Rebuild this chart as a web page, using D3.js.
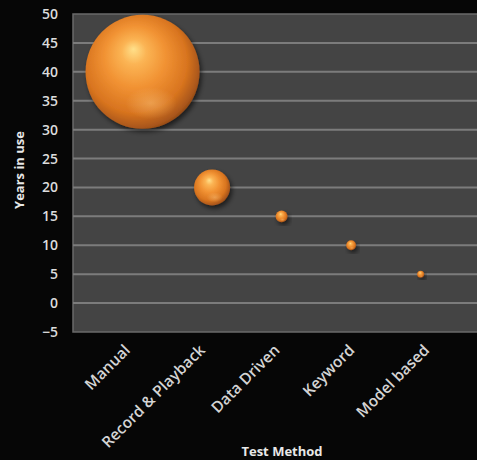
<!DOCTYPE html>
<html><head><meta charset="utf-8">
<script src="https://cdn.jsdelivr.net/npm/d3@7"></script>
<style>html,body{margin:0;padding:0;background:#060606;}svg{display:block;}</style>
</head><body>
<script>
const categories = ["Manual", "Record & Playback", "Data Driven", "Keyword", "Model based"];
const yearsInUse = [40, 20, 15, 10, 5];
const bubbleSize = [100, 10, 1.1, 0.75, 0.38];
const yTicks = [-5, 0, 5, 10, 15, 20, 25, 30, 35, 40, 45, 50];

const W = 477, H = 460;
const m = {left: 73, top: 14, right: 0, bottom: 128};
const svg = d3.select("body").append("svg").attr("width", W).attr("height", H);
const defs = svg.append("defs");
const g1 = defs.append("radialGradient").attr("id", "ball").attr("cx", "45%").attr("cy", "45%").attr("r", "60%").attr("fx", "42%").attr("fy", "30%");
[["0%", "#ffe08a"], ["18%", "#fbb454"], ["45%", "#f19233"], ["75%", "#d8741f"], ["92%", "#a9561a"], ["100%", "#7a3c14"]].forEach(([o, c]) => g1.append("stop").attr("offset", o).attr("stop-color", c));
const g2 = defs.append("radialGradient").attr("id", "refl").attr("cx", "50%").attr("cy", "50%").attr("r", "50%");
g2.append("stop").attr("offset", "0%").attr("stop-color", "#ffcf8a").attr("stop-opacity", 0.4);
g2.append("stop").attr("offset", "100%").attr("stop-color", "#ffcf8a").attr("stop-opacity", 0);
const f = defs.append("filter").attr("id", "shadow").attr("x", "-30%").attr("y", "-30%").attr("width", "160%").attr("height", "160%");
f.append("feGaussianBlur").attr("in", "SourceAlpha").attr("stdDeviation", 2.5);
f.append("feOffset").attr("dx", 2).attr("dy", 3).attr("result", "b");
f.append("feComponentTransfer").append("feFuncA").attr("type", "linear").attr("slope", 0.6);
const mg = f.append("feMerge"); mg.append("feMergeNode"); mg.append("feMergeNode").attr("in", "SourceGraphic");

const x = d3.scaleLinear().domain([0, 5.81]).range([m.left, W - m.right]);
const y = d3.scaleLinear().domain([-5, 50]).range([H - m.bottom, m.top]);
const r = d3.scaleSqrt().domain([0, 100]).range([0, 57]);
const xl = d3.scalePoint().domain(categories).range([x(1) - 14, x(categories.length) + 7]);

svg.append("rect").attr("x", m.left).attr("y", m.top).attr("width", W - m.left + 2).attr("height", y(-5) - m.top)
  .attr("fill", "#444444").attr("stroke", "#6a6a6a").attr("stroke-width", 1.5);

svg.append("g").selectAll("line").data(yTicks.filter(t => t > -5 && t < 50)).join("line")
  .attr("x1", m.left).attr("x2", W).attr("y1", d => y(d)).attr("y2", d => y(d))
  .attr("stroke", "#7c7c7c").attr("stroke-width", 2);

const yAxis = svg.append("g").attr("transform", `translate(${m.left},0)`)
  .call(d3.axisLeft(y).tickValues(yTicks).tickSize(0).tickPadding(15));
yAxis.select(".domain").remove();
yAxis.selectAll("text").attr("fill", "#dcdcdc").attr("font-family", "Open Sans, sans-serif").attr("font-size", 14).attr("font-weight", 600);

const xAxis = svg.append("g").attr("transform", `translate(0,${y(-5)})`)
  .call(d3.axisBottom(xl).tickSize(0));
xAxis.select(".domain").remove();
xAxis.selectAll("text").attr("fill", "#d4d4d4").attr("font-family", "Open Sans, sans-serif").attr("font-size", 15.5).attr("font-weight", 600)
  .attr("text-anchor", "end").attr("dy", 0).attr("transform", "translate(0,17) rotate(-45)");

const data = categories.map((c, i) => ({c, v: yearsInUse[i], s: bubbleSize[i], i: i + 1}));
const b = svg.append("g").selectAll("g").data(data).join("g")
  .attr("transform", d => `translate(${x(d.i)},${y(d.v)})`);
b.append("circle").attr("r", d => r(d.s)).attr("fill", "url(#ball)").attr("filter", "url(#shadow)");
b.append("ellipse").attr("cx", d => r(d.s) * 0.15).attr("cy", d => r(d.s) * 0.55).attr("rx", d => r(d.s) * 0.45).attr("ry", d => r(d.s) * 0.28).attr("fill", "url(#refl)");

svg.append("text").attr("x", 282).attr("y", 456).attr("text-anchor", "middle").attr("fill", "#e8e8e8")
  .attr("font-family", "Open Sans, sans-serif").attr("font-weight", 700).attr("font-size", 13).text("Test Method");
svg.append("text").attr("transform", "translate(24,170) rotate(-90)").attr("text-anchor", "middle").attr("fill", "#e8e8e8")
  .attr("font-family", "Open Sans, sans-serif").attr("font-weight", 700).attr("font-size", 13).text("Years in use");
</script>
</body></html>
